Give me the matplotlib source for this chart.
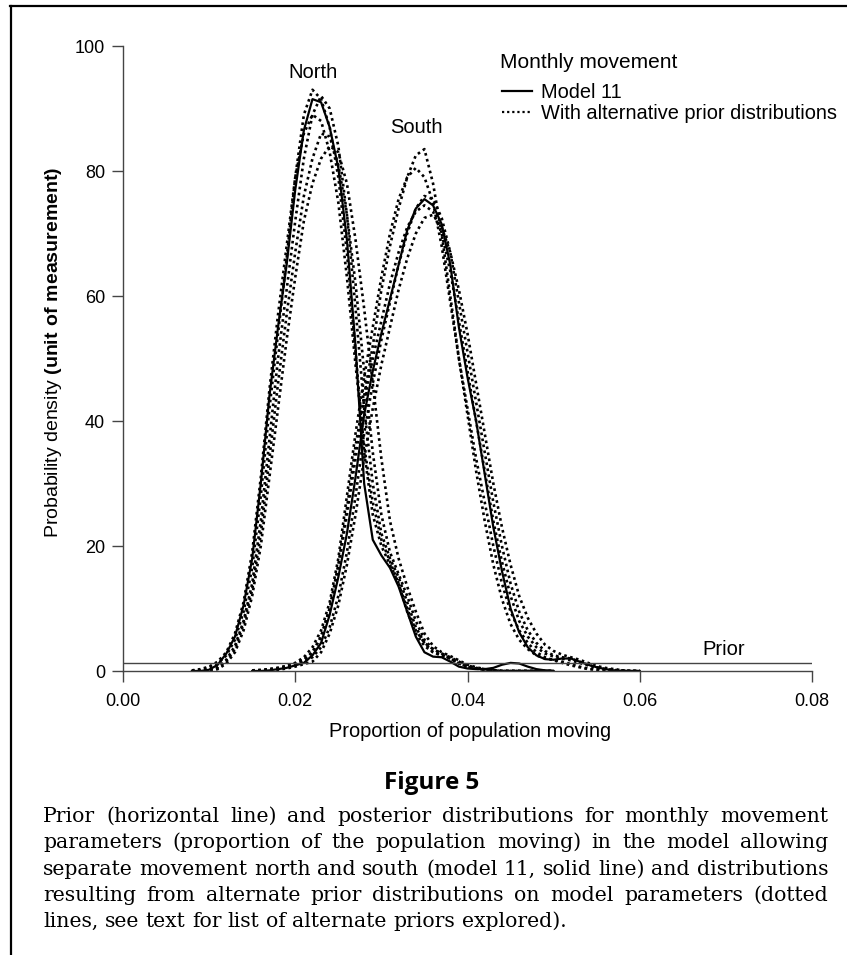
import matplotlib
matplotlib.use("Agg")
import matplotlib.pyplot as plt
from matplotlib.lines import Line2D

plt.rcParams['font.family'] = ['Liberation Sans', 'DejaVu Sans']
plt.rcParams['mathtext.fontset'] = 'custom'
plt.rcParams['mathtext.rm'] = 'Liberation Sans'
plt.rcParams['mathtext.bf'] = 'Liberation Sans:bold'

# posterior densities, read on a 0.001 grid
north_x = [0.008, 0.009, 0.010, 0.011, 0.012, 0.013, 0.014, 0.015, 0.016, 0.017,
           0.018, 0.019, 0.020, 0.021, 0.022, 0.023, 0.024, 0.025, 0.026, 0.027,
           0.028, 0.029, 0.030, 0.031, 0.032, 0.033, 0.034, 0.035, 0.036, 0.037,
           0.038, 0.039, 0.040, 0.041, 0.042, 0.043, 0.044, 0.045, 0.046, 0.047,
           0.048, 0.049, 0.050]
north_model11 = [0, 0, 0.2, 1.0, 2.8, 5.5, 10.5, 18, 30, 44,
                 55, 65, 77, 86.5, 91.5, 91, 87, 80.5, 69, 52,
                 30, 21, 18.5, 16.5, 13.5, 9.5, 5.5, 3, 2.3, 2.2,
                 1.5, 0.7, 0.4, 0.3, 0.3, 0.5, 1.0, 1.3, 1.2, 0.7,
                 0.3, 0.1, 0]
north_alt = [
    [0, 0.2, 0.5, 1.2, 2.5, 5, 9.5, 16.5, 28, 42,
     54, 66, 79, 89, 93, 91.5, 87, 79, 67, 51,
     35, 25, 20, 17, 14, 9.5, 6, 4, 3, 2.5,
     2, 1.2, 0.7, 0.4, 0.2, 0.1, 0, 0, 0, 0,
     0, 0, 0],
    [0, 0, 0.2, 0.6, 1.8, 4, 8, 14, 24, 37,
     50, 61, 72, 82, 89, 92, 90, 84, 73, 58,
     42, 30, 22, 18, 15, 11, 7, 4.5, 3, 2.5,
     2, 1.3, 0.8, 0.4, 0.2, 0.1, 0, 0, 0, 0,
     0, 0, 0],
    [0, 0, 0.1, 0.5, 1.5, 3.5, 7.5, 13, 22, 34,
     46, 57, 67, 76, 82, 86, 85.5, 81, 73, 62,
     48, 35, 25, 19, 15.5, 12, 8, 5, 3.5, 2.8,
     2.2, 1.5, 0.9, 0.5, 0.3, 0.1, 0, 0, 0, 0,
     0, 0, 0],
    [0, 0, 0, 0.3, 1.2, 3, 6.5, 12, 20, 31,
     42, 53, 63, 72, 78, 82, 84, 83, 78, 69,
     58, 46, 34, 24, 18, 13.5, 9.5, 6, 4, 3,
     2.4, 1.7, 1, 0.6, 0.3, 0.1, 0, 0, 0, 0,
     0, 0, 0],
    [0.1, 0.3, 0.7, 1.5, 3, 6, 11, 19, 31, 45,
     57, 68, 79, 86, 89, 88, 83, 75, 63, 49,
     36, 27, 21, 17.5, 14, 10, 6.5, 4.5, 3.5, 2.8,
     2, 1.2, 0.7, 0.4, 0.2, 0.1, 0, 0, 0, 0,
     0, 0, 0],
]

south_x = [0.015, 0.016, 0.017, 0.018, 0.019, 0.020, 0.021, 0.022, 0.023, 0.024,
           0.025, 0.026, 0.027, 0.028, 0.029, 0.030, 0.031, 0.032, 0.033, 0.034,
           0.035, 0.036, 0.037, 0.038, 0.039, 0.040, 0.041, 0.042, 0.043, 0.044,
           0.045, 0.046, 0.047, 0.048, 0.049, 0.050, 0.051, 0.052, 0.053, 0.054,
           0.055, 0.056, 0.057, 0.058, 0.059, 0.060]
south_model11 = [0, 0, 0.1, 0.3, 0.5, 0.9, 1.3, 2.5, 4.5, 9,
                 15, 22, 31, 41, 48, 54, 59.5, 65, 70.5, 74,
                 75.5, 74.5, 71.5, 65, 55, 47, 40, 31.5, 23, 16,
                 10, 6.2, 3.8, 2.5, 1.9, 1.8, 2.0, 2.0, 1.5, 1.0,
                 0.6, 0.3, 0.1, 0, 0, 0]
south_alt = [
    [0, 0.1, 0.2, 0.4, 0.7, 1.1, 1.8, 3, 5.5, 10,
     17, 26, 36, 44, 52, 61, 68, 74, 79, 82.5,
     83.5, 78, 70, 60, 50, 41, 32, 24, 17, 11.5,
     7.5, 5, 3.5, 2.5, 2, 1.8, 1.5, 1.1, 0.7, 0.4,
     0.2, 0.1, 0, 0, 0, 0],
    [0, 0.1, 0.3, 0.5, 0.8, 1.3, 2.2, 3.8, 6.5, 11,
     18, 28, 38, 47, 55, 63, 70, 75.5, 79, 80.5,
     79, 75, 68, 59, 50, 42, 34, 27, 20, 14,
     9.5, 6.5, 4.5, 3, 2.2, 1.7, 1.3, 0.9, 0.6, 0.3,
     0.2, 0.1, 0, 0, 0, 0],
    [0, 0, 0.1, 0.3, 0.6, 1.0, 1.5, 2.2, 3.8, 7,
     12, 19, 28, 38, 46, 53, 59, 65, 70, 74,
     76, 75.5, 72.5, 67, 59, 51, 43, 35, 27, 20,
     14, 9.5, 6.5, 4.5, 3.2, 2.5, 2.2, 2, 1.5, 1,
     0.6, 0.3, 0.1, 0, 0, 0],
    [0, 0, 0, 0.2, 0.4, 0.7, 1.1, 1.5, 3, 6,
     10.5, 17, 25, 34, 42, 49, 55, 61, 66, 70,
     72.5, 73, 71, 67, 61, 54, 46, 38, 30, 23,
     17, 12, 8.5, 6, 4.2, 3.2, 2.6, 2.2, 1.8, 1.3,
     0.8, 0.5, 0.3, 0.1, 0, 0],
    [0.1, 0.2, 0.3, 0.5, 0.8, 1.2, 1.8, 3, 5.5, 10,
     16.5, 25, 34, 43, 50, 56, 62, 67, 71, 73.5,
     74.5, 73.5, 70, 64, 56, 48, 40, 32, 24, 17.5,
     12, 8, 5.5, 3.8, 2.8, 2.3, 2, 1.7, 1.3, 0.9,
     0.5, 0.3, 0.2, 0.1, 0, 0],
]

# flat prior over the plotted range
prior_x = [0.0, 0.08]
prior_y = [1.25, 1.25]

x_ticks = [0.00, 0.02, 0.04, 0.06, 0.08]
y_ticks = [0, 20, 40, 60, 80, 100]

caption_lines = [
    "Prior (horizontal line) and posterior distributions for monthly movement",
    "parameters (proportion of the population moving) in the model allowing",
    "separate movement north and south (model 11, solid line) and distributions",
    "resulting from alternate prior distributions on model parameters (dotted",
    "lines, see text for list of alternate priors explored).",
]

W, H = 847, 955
fig = plt.figure(figsize=(W / 100, H / 100), dpi=100)
ax = fig.add_axes([123 / W, 1 - 671 / H, 689 / W, 625 / H])

dots = (0, (1, 1.3))
for ys in north_alt:
    ax.plot(north_x, ys, color='black', lw=1.9, linestyle=dots)
for ys in south_alt:
    ax.plot(south_x, ys, color='black', lw=1.9, linestyle=dots)
ax.plot(north_x, north_model11, color='black', lw=1.6)
ax.plot(south_x, south_model11, color='black', lw=1.6)
ax.plot(prior_x, prior_y, color='#444444', lw=1.0)

ax.set_xlim(0, 0.08)
ax.set_ylim(0, 100)
ax.set_xticks(x_ticks)
ax.set_xticklabels(['%.2f' % v for v in x_ticks])
ax.set_yticks(y_ticks)
for side in ['top', 'right']:
    ax.spines[side].set_visible(False)
for side in ['left', 'bottom']:
    ax.spines[side].set_color('#444444')
    ax.spines[side].set_linewidth(1.0)
ax.tick_params(direction='out', length=8, width=1.0, color='#444444',
               labelsize=13, pad=5)
ax.tick_params(axis='x', pad=7.5)

ax.set_xlabel('Proportion of population moving', fontsize=14.4)
ax.xaxis.set_label_coords(0.503, -0.082)
ax.set_ylabel(r'Probability density $\mathbf{(unit\ of\ measurement)}$', fontsize=14)
ax.yaxis.set_label_coords(-0.086, 0.51)

ax.text(0.0221, 95.8, 'North', fontsize=14.5, ha='center', va='center')
ax.text(0.0341, 87.0, 'South', fontsize=14.5, ha='center', va='center')
ax.text(0.0673, 3.4, 'Prior', fontsize=14.5, ha='left', va='center')

# legend heading sits apart from the two entries
fig.text(500 / W, 1 - 63 / H, 'Monthly movement', fontsize=15, ha='left', va='center')
handles = [Line2D([], [], color='black', lw=1.6),
           Line2D([], [], color='black', lw=1.6, linestyle=dots)]
leg = ax.legend(handles, ['Model 11', 'With alternative prior distributions'],
                fontsize=14.4, loc='upper left',
                bbox_to_anchor=(502 / W, 1 - 83 / H),
                bbox_transform=fig.transFigure, frameon=False, borderpad=0,
                borderaxespad=0, handlelength=1.5, handletextpad=0.45,
                labelspacing=0.1)

# frame rules along the top and the left edge
fig.add_artist(Line2D([10 / W, 1.0], [1 - 6 / H, 1 - 6 / H], color='black', lw=1.6))
fig.add_artist(Line2D([11 / W, 11 / W], [1 - 6 / H, 0.0], color='black', lw=1.6))

fig.text(432 / W, 1 - 789 / H, 'Figure 5', fontsize=17.5, fontweight='bold',
         family=['Open Sans', 'DejaVu Sans'], ha='center', va='baseline')

# justified caption, one word at a time; size chosen so the longest line fits
renderer = fig.canvas.get_renderer()
left, right = 43, 828
baselines = [821.5, 848, 874.5, 900.5, 927]
base_size = 12.0
probe = fig.text(0, 0, '', fontsize=base_size, family=['DejaVu Serif'])
natural = []
for line in caption_lines[:-1]:
    probe.set_text(line)
    natural.append(probe.get_window_extent(renderer).width)
probe.remove()
cap_size = base_size * (right - left - 6) / max(natural)
cap_kw = dict(fontsize=cap_size, family=['DejaVu Serif'], va='baseline', ha='left')
probe = fig.text(0, 0, 'a a', **cap_kw)
probe_a = fig.text(0, 0, 'aa', **cap_kw)
space_w = probe.get_window_extent(renderer).width - probe_a.get_window_extent(renderer).width
probe.remove()
probe_a.remove()
for k, (line, yb) in enumerate(zip(caption_lines, baselines)):
    words = line.split()
    texts = [fig.text(0, 1 - yb / H, w, **cap_kw) for w in words]
    widths = [t.get_window_extent(renderer).width for t in texts]
    if k < len(caption_lines) - 1:
        gap = (right - left - sum(widths)) / (len(words) - 1)
    else:
        gap = space_w
    xpos = left
    for t, w in zip(texts, widths):
        t.set_x(xpos / W)
        xpos += w + gap

fig.savefig('out.png', dpi=100)
